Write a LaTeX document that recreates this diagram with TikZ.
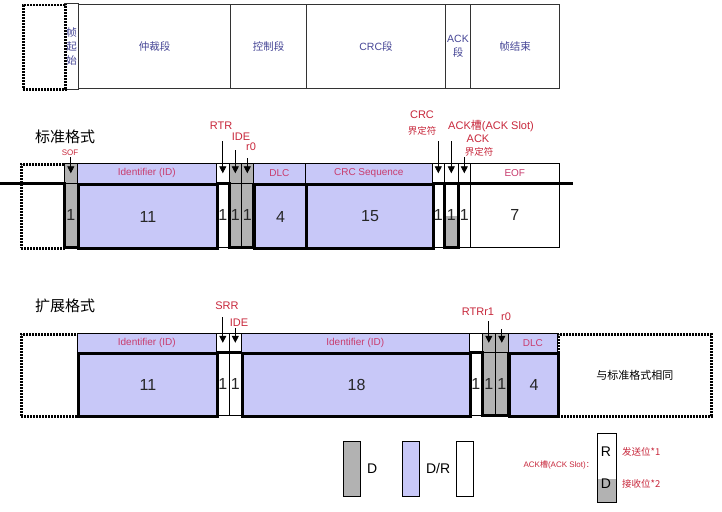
\documentclass[tikz,border=0pt]{standalone}
\usepackage{fontspec}
\setmainfont{Liberation Sans}
\newfontfamily\cjk{Noto Sans CJK SC}
\newcommand{\hanzi}[1]{{\cjk #1}}
\usetikzlibrary{arrows.meta,positioning}
\definecolor{lav}{RGB}{200,200,248}
\definecolor{dgray}{RGB}{178,178,178}
\definecolor{lblred}{RGB}{200,40,60}
\definecolor{cellpink}{RGB}{200,60,110}
\definecolor{segblue}{RGB}{70,70,150}
\tikzset{
  % overview row
  seg/.style={draw=black!80, line width=1pt, anchor=north west, inner sep=0pt,
    minimum height=84pt, text=segblue, align=center,
    font=\fontsize{10.5}{14}\selectfont},
  % idle and "same as" boxes
  idlebox/.style={draw, dash pattern=on 2pt off 1pt, line width=2.5pt,
    anchor=north west, inner sep=0pt},
  % field name row
  hdr/.style={draw, line width=0.6pt, anchor=north west, inner sep=0pt,
    minimum height=20pt, text=cellpink, font=\fontsize{10}{12}\selectfont},
  % bit count row
  bits/.style={draw, line width=0.6pt, anchor=north west, inner sep=0pt,
    minimum height=64pt, text=black!85, font=\fontsize{16}{16}\selectfont},
  dr/.style={fill=lav, line width=3pt},
  wave/.style={line width=3pt},
  lbl/.style={text=lblred, inner sep=0pt, font=\fontsize{11}{12}\selectfont},
  zhlbl/.style={text=lblred, inner sep=0pt, font=\cjk\fontsize{9.5}{11}\selectfont},
  pin/.style={-{Triangle[length=7pt,width=7pt]}, line width=0.8pt},
  legbox/.style={draw, line width=0.8pt, anchor=north west, inner sep=0pt,
    minimum width=17pt, minimum height=55pt},
  legtxt/.style={inner sep=0pt, font=\fontsize{14}{14}\selectfont},
}

\begin{document}
\begin{tikzpicture}[x=1pt,y=-1pt]
\useasboundingbox[fill=white] (0,0) rectangle (722,511);

% overview of the frame
\node[seg, draw=none, minimum width=14pt] (fSOF) at (64,4) {\hanzi{帧}\\\hanzi{起}\\\hanzi{始}};
\draw[line width=1pt, black!80] (fSOF.north west) -- (fSOF.north east) (fSOF.south west) -- (fSOF.south east);
\node[seg, minimum width=152pt] (fArb) at (78,4) {\hanzi{仲裁段}};
\node[seg, minimum width=76pt] (fCtl) at (230,4) {\hanzi{控制段}};
\node[seg, minimum width=139pt] (fCRC) at (306,4) {CRC\hanzi{段}};
\node[seg, minimum width=25pt] (fAck) at (445,4) {ACK\\\hanzi{段}};
\node[seg, minimum width=89pt] (fEOF) at (470,4) {\hanzi{帧结束}};
\node[idlebox, minimum width=42pt, minimum height=84pt] (fIdle) at (22,4) {};

% standard format
\node[anchor=west, inner sep=0pt, font=\cjk\fontsize{15}{15}\selectfont] (tStd) at (35,137) {标准格式};
\node[idlebox, minimum width=44pt, minimum height=84pt] (sIdle) at (20,163) {};

\node[hdr, fill=dgray, minimum width=13pt] (sSOFh) at (64,163) {};
\node[hdr, fill=lav, minimum width=139pt] (sIDh) at (77,163) {Identifier (ID)};
\node[hdr, minimum width=13pt] (sRTRh) at (216,163) {};
\node[hdr, fill=dgray, minimum width=12pt] (sIDEh) at (229,163) {};
\node[hdr, fill=dgray, minimum width=12pt] (sR0h) at (241,163) {};
\node[hdr, fill=lav, minimum width=52pt] (sDLCh) at (253,163) {DLC};
\node[hdr, fill=lav, minimum width=127pt] (sCRCh) at (305,163) {CRC Sequence};
\node[hdr, minimum width=12pt] (sCDh) at (432,163) {};
\node[hdr, minimum width=14pt] (sASh) at (444,163) {};
\node[hdr, minimum width=12pt] (sADh) at (458,163) {};
\node[hdr, minimum width=89pt] (sEOFh) at (470,163) {EOF};

\node[bits, fill=dgray, minimum width=13pt] (sSOF) at (64,183) {1};
\node[bits, dr, minimum width=139pt] (sID) at (77,183) {11};
\node[bits, minimum width=13pt] (sRTR) at (216,183) {1};
\node[bits, fill=dgray, minimum width=12pt] (sIDE) at (229,183) {1};
\node[bits, fill=dgray, minimum width=12pt] (sR0) at (241,183) {1};
\node[bits, dr, minimum width=52pt] (sDLC) at (253,183) {4};
\node[bits, dr, minimum width=127pt] (sCRC) at (305,183) {15};
\node[bits, minimum width=12pt] (sCD) at (432,183) {1};
\fill[dgray] (444,216) rectangle (458,247);
\node[bits, minimum width=14pt] (sAS) at (444,183) {1};
\node[bits, minimum width=12pt] (sAD) at (458,183) {1};
\node[bits, minimum width=89pt] (sEOF) at (470,183) {7};

\coordinate (sBusL) at (0,183);
\coordinate (sBusR) at (573,183);
\draw[wave] (sBusL) -- (sSOF.north west) -- (sSOF.south west) -- (sSOF.south east);
\draw[wave] (sRTR.north west) -- (sRTR.north east) -- (sRTR.south east) -- (sR0.south east) -- (sR0.north east);
\draw[wave] (sCD.north west) -- (sBusR);
\draw[wave] (sAS.north west) -- (sAS.south west) -- (sAS.south east) -- (sAS.north east);

\node[lbl, font=\fontsize{8}{9}\selectfont] (lSOF) at (70,153) {SOF};
\node[lbl] (lRTR) at (221,126) {RTR};
\node[lbl] (lIDE) at (241,137) {IDE};
\node[lbl] (lR0) at (251,147) {r0};
\node[lbl] (lCRC) at (422,115) {CRC};
\node[zhlbl] (lCRCd) at (422,131) {界定符};
\node[lbl] (lAS) at (491,126) {ACK\hanzi{槽}(ACK Slot)};
\node[lbl] (lACK) at (478,139) {ACK};
\node[zhlbl] (lACKd) at (479,152) {界定符};

\coordinate (aSOF) at (sSOFh.center |- 0,157);
\coordinate (aRTR) at (sRTRh.center |- 0,141);
\coordinate (aIDE) at (sIDEh.center |- 0,150);
\coordinate (aR0) at (sR0h.center |- 0,158);
\coordinate (aCD) at (sCDh.center |- 0,141);
\coordinate (aAS) at (sASh.center |- 0,141);
\coordinate (aAD) at (sADh.center |- 0,157);
\draw[pin] (aSOF) -- (sSOFh.center);
\draw[pin] (aRTR) -- (sRTRh.center);
\draw[pin] (aIDE) -- (sIDEh.center);
\draw[pin] (aR0) -- (sR0h.center);
\draw[pin] (aCD) -- (sCDh.center);
\draw[pin] (aAS) -- (sASh.center);
\draw[pin] (aAD) -- (sADh.center);

% extended format
\node[anchor=west, inner sep=0pt, font=\cjk\fontsize{15}{15}\selectfont] (tExt) at (35,306) {扩展格式};
\node[idlebox, minimum width=57pt, minimum height=82pt] (eIdle) at (20,333) {};

\node[hdr, fill=lav, minimum width=139pt, minimum height=19pt] (eIDh) at (77,333) {Identifier (ID)};
\node[hdr, minimum width=13pt, minimum height=19pt] (eSRRh) at (216,333) {};
\node[hdr, minimum width=12pt, minimum height=19pt] (eIDEh) at (229,333) {};
\node[hdr, fill=lav, minimum width=228pt, minimum height=19pt] (eID2h) at (241,333) {Identifier (ID)};
\node[hdr, minimum width=13pt, minimum height=19pt] (eRTRh) at (469,333) {};
\node[hdr, fill=dgray, minimum width=13pt, minimum height=19pt] (eR1h) at (482,333) {};
\node[hdr, fill=dgray, minimum width=13pt, minimum height=19pt] (eR0h) at (495,333) {};
\node[hdr, fill=lav, minimum width=49pt, minimum height=19pt] (eDLCh) at (508,333) {DLC};
\node[idlebox, minimum width=153pt, minimum height=82pt, font=\cjk\fontsize{11}{12}\selectfont] (eSame) at (557,333) {与标准格式相同};

\node[bits, dr, minimum width=139pt, minimum height=63pt] (eID) at (77,352) {11};
\node[bits, minimum width=13pt, minimum height=63pt] (eSRR) at (216,352) {1};
\node[bits, minimum width=12pt, minimum height=63pt] (eIDE) at (229,352) {1};
\node[bits, dr, minimum width=228pt, minimum height=63pt] (eID2) at (241,352) {18};
\node[bits, minimum width=13pt, minimum height=63pt] (eRTR) at (469,352) {1};
\node[bits, fill=dgray, minimum width=13pt, minimum height=63pt] (eR1) at (482,352) {1};
\node[bits, fill=dgray, minimum width=13pt, minimum height=63pt] (eR0) at (495,352) {1};
\node[bits, dr, minimum width=49pt, minimum height=63pt] (eDLC) at (508,352) {4};

\draw[wave] (eSRR.north west) -- (eIDE.north east);
\draw[wave] (eRTR.north west) -- (eRTR.north east) -- (eRTR.south east) -- (eR0.south east) -- (eR0.north east);

\node[lbl] (lSRR) at (227,306) {SRR};
\node[lbl] (lIDEe) at (239,323) {IDE};
\node[lbl] (lRTRe) at (478,312) {RTRr1};
\node[lbl] (lR0e) at (506,317) {r0};

\coordinate (aSRR) at (eSRRh.center |- 0,317);
\coordinate (aIDEe) at (eIDEh.center |- 0,328);
\coordinate (aR1) at (eR1h.center |- 0,321);
\coordinate (aR0e) at (eR0h.center |- 0,329);
\draw[pin] (aSRR) -- (eSRRh.center);
\draw[pin] (aIDEe) -- (eIDEh.center);
\draw[pin] (aR1) -- (eR1h.center);
\draw[pin] (aR0e) -- (eR0h.center);

% legend
\node[legbox, fill=dgray] (lgD) at (343,441) {};
\node[legtxt, right=6pt of lgD] (lgDt) {D};
\node[legbox, fill=lav] (lgDR) at (402,441) {};
\node[legtxt, right=6pt of lgDR] (lgDRt) {D/R};
\node[legbox] (lgR) at (456,441) {};
\fill[dgray] (597,479) rectangle (616,502);
\node[legbox, minimum width=19pt, minimum height=69pt] (lgAS) at (597,433) {};
\node[legtxt] (lgASr) at (606,452) {R};
\node[legtxt] (lgASd) at (606,484) {D};
\node[lbl, anchor=east, font=\fontsize{8}{9}\selectfont] (lgAck) at (594,465) {ACK\hanzi{槽}(ACK Slot)\hanzi{：}};
\node[zhlbl, anchor=west] (lgTx) at (622,452) {发送位*1};
\node[zhlbl, anchor=west] (lgRx) at (622,484) {接收位*2};
\end{tikzpicture}
\end{document}
